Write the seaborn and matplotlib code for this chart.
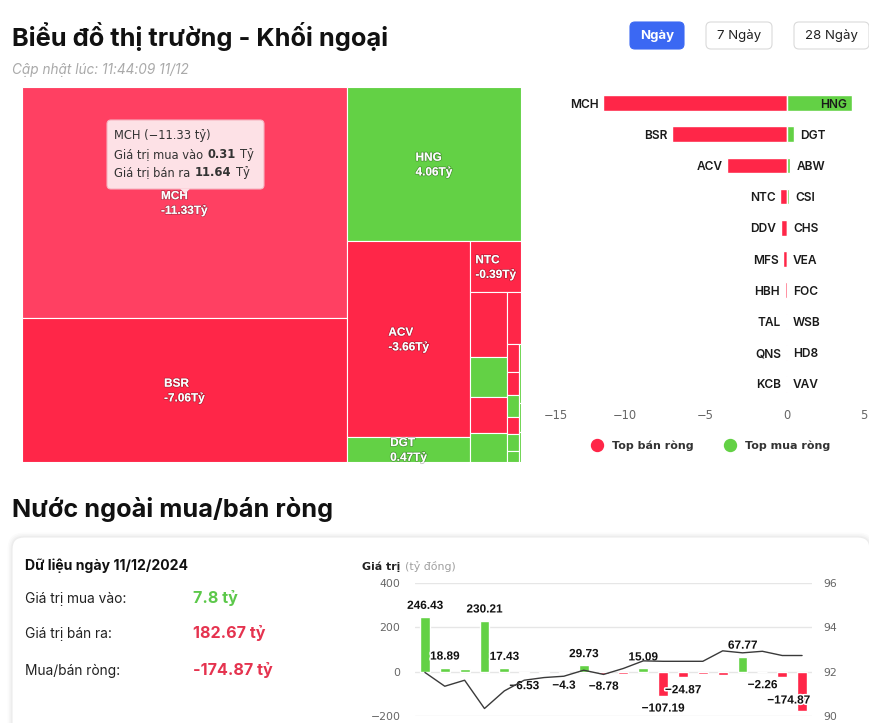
import numpy as np
import pandas as pd
import matplotlib
matplotlib.use("Agg")
import matplotlib.pyplot as plt
import seaborn as sns
import matplotlib.patheffects as pe
from matplotlib.patches import FancyBboxPatch, Rectangle, Polygon
from matplotlib.lines import Line2D
from matplotlib.transforms import IdentityTransform

# ------------------------------------------------------------------ data
page_title = "Biểu đồ thị trường - Khối ngoại"
updated_at = "Cập nhật lúc: 11:44:09 11/12"
period_buttons = ["Ngày", "7 Ngày", "28 Ngày"]
active_button = "Ngày"

sell_names = ["MCH", "BSR", "ACV", "NTC", "DDV", "MFS", "HBH", "TAL", "QNS", "KCB"]
sell_values = [-11.33, -7.06, -3.66, -0.39, -0.36, -0.20, -0.11, -0.05, -0.04, -0.03]
buy_names = ["HNG", "DGT", "ABW", "CSI", "CHS", "VEA", "FOC", "WSB", "HD8", "VAV"]
buy_values = [4.06, 0.47, 0.22, 0.16, 0.04, 0.03, 0.02, 0.02, 0.01, 0.01]
legend_labels = ["Top bán ròng", "Top mua ròng"]

tooltip_code = "MCH"
tooltip_buy = 0.31
tooltip_sell = 11.64

section_title = "Nước ngoài mua/bán ròng"
data_date = "11/12/2024"
total_buy = 7.8
total_sell = 182.67
total_net = -174.87

days = ["14/11", "15/11", "18/11", "19/11", "20/11", "21/11", "22/11", "25/11", "26/11", "27/11",
        "28/11", "29/11", "02/12", "03/12", "04/12", "05/12", "06/12", "09/12", "10/12", "11/12"]
net_flow = [246.43, 18.89, 11.2, 230.21, 17.43, -6.53, -5.12, -4.3, 29.73, -8.78,
            -9.4, 15.09, -107.19, -24.87, -10.9, -14.62, 67.77, -2.26, -21.3, -174.87]
upcom_index = [91.97, 91.35, 91.62, 90.35, 91.14, 91.62, 91.74, 91.80, 92.07, 91.88,
               92.15, 92.49, 92.47, 92.47, 92.47, 92.94, 92.85, 92.92, 92.73, 92.73]
left_ticks = [-200, 0, 200, 400]
right_ticks = [90, 92, 94, 96]
bar_ticks = [-15, -10, -5, 0, 5]

# ------------------------------------------------------------------ style
RED = "#ff2648"
GREEN = "#63d145"
RED_TXT = "#e5334f"
GREEN_TXT = "#5cc84a"
BLUE = "#3b68f3"
INTER = ["Inter", "DejaVu Sans"]
DEJA = ["DejaVu Sans"]
ARIAL = ["Liberation Sans", "DejaVu Sans"]

sns.set_theme(style="white")
plt.rcParams["font.family"] = ["DejaVu Sans"]
plt.rcParams["axes.unicode_minus"] = True

FIG_W, FIG_H = 870, 723
fig = plt.figure(figsize=(FIG_W / 100, FIG_H / 100), dpi=100)
fig.patch.set_facecolor("white")


def axrect(l, t, w, h):
    return [l / FIG_W, 1 - (t + h) / FIG_H, w / FIG_W, h / FIG_H]


def fx(x):
    return x / FIG_W


def fy(y):
    return 1 - y / FIG_H


def pxbox(l, t, w, h, **kw):
    p = FancyBboxPatch((l, FIG_H - t - h), w, h, transform=IdentityTransform(), **kw)
    fig.add_artist(p)
    return p


def brighten(hexcol, amt=0.1):
    c = np.array(matplotlib.colors.to_rgb(hexcol)) + amt
    return tuple(np.clip(c, 0, 1))


# ------------------------------------------------------------------ header
fig.text(fx(12), fy(46), page_title, fontsize=18.3, weight="bold", family=INTER,
         color="#111111", va="baseline")
fig.text(fx(12), fy(74), updated_at, fontsize=9.8, style="italic", family=INTER,
         color="#a9a9a9", va="baseline")

btn_x = [630, 706, 794]
btn_w = [54, 66, 75]
for lab, bx, bw in zip(period_buttons, btn_x, btn_w):
    active = lab == active_button
    pxbox(bx, 22, bw, 27, boxstyle="round,pad=0,rounding_size=5",
          facecolor=BLUE if active else "white",
          edgecolor=BLUE if active else "#dadada", linewidth=0.8)
    fig.text(fx(bx + bw / 2), fy(35.5), lab, ha="center", va="center", fontsize=9.5,
             family=INTER, color="white" if active else "#222222",
             weight="bold" if active else "normal")


# ------------------------------------------------------------------ treemap
def highcharts_squarified(values, width, height):
    vals = np.asarray(values, float)
    areas = vals / vals.sum() * width * height
    st = dict(w=width, h=height, d=0, total=0.0, nW=0.0, lW=0.0, nH=0.0, lH=0.0,
              el=[], lpt=np.nan, lR=np.nan, nR=np.nan)
    plot = [0.0, 0.0]
    rects = []

    def ratio(a, b):
        with np.errstate(all="ignore"):
            a = np.float64(a)
            b = np.float64(b)
            return np.maximum(a / b, b / a)

    def add(el):
        st["lpt"] = st["el"][-1] if st["el"] else np.nan
        st["total"] += el
        with np.errstate(all="ignore"):
            if st["d"] == 0:
                st["lW"] = st["nW"]
                lH = np.float64(st["lpt"]) / np.float64(st["lW"])
                st["lR"] = ratio(st["lW"], lH)
                st["nW"] = st["total"] / st["h"]
                nH = np.float64(st["lpt"]) / np.float64(st["nW"])
                st["nR"] = ratio(st["nW"], nH)
            else:
                st["lH"] = st["nH"]
                lW = np.float64(st["lpt"]) / np.float64(st["lH"])
                st["lR"] = ratio(lW, st["lH"])
                st["nH"] = st["total"] / st["w"]
                nW = np.float64(st["lpt"]) / np.float64(st["nH"])
                st["nR"] = ratio(nW, st["nH"])
        st["el"].append(el)

    def calc(last):
        keep = None
        if last:
            gW, gH = st["nW"], st["nH"]
        else:
            gW, gH = st["lW"], st["lH"]
            keep = st["el"][-1]
        end = len(st["el"]) - 1
        for i, p in enumerate(st["el"]):
            if last or i < end:
                if st["d"] == 0:
                    pw = gW
                    ph = p / pw
                    rects.append((plot[0], plot[1], pw, ph))
                    plot[1] += ph
                else:
                    ph = gH
                    pw = p / ph
                    rects.append((plot[0], plot[1], pw, ph))
                    plot[0] += pw
        st["nW"] = 0.0
        st["lW"] = 0.0
        st["el"] = []
        st["total"] = 0.0
        if st["d"] == 0:
            st["w"] -= gW
        else:
            st["h"] -= gH
        plot[1] = height - st["h"]
        plot[0] = width - st["w"]
        st["d"] = 1 - st["d"]
        if not last:
            add(keep)

    n = len(areas)
    for i, a in enumerate(areas):
        add(a)
        if st["nR"] > st["lR"]:
            calc(False)
        if i == n - 1:
            calc(True)
    return rects


TM_W, TM_H = 499, 375
ax_tm = fig.add_axes(axrect(22, 87, TM_W, TM_H))
tm_df = pd.DataFrame({"code": sell_names + buy_names, "net": sell_values + buy_values})
tm_df["size"] = tm_df["net"].abs()
tm_df = tm_df.sort_values("size", ascending=False, kind="stable").reset_index(drop=True)
rects = highcharts_squarified(tm_df["size"].values, TM_W, TM_H)
tm_texts = []
for (code, net), (x, y, w, h) in zip(tm_df[["code", "net"]].values, rects):
    col = GREEN if net > 0 else RED
    if code == tooltip_code:
        col = brighten(RED, 0.1)
    r = Rectangle((x, y), w, h, facecolor=col, edgecolor="white", linewidth=0.8)
    ax_tm.add_patch(r)
    t = ax_tm.text(x + w / 2, y + h / 2 + 1, f"{code}\n{net:.2f}Tỷ", ha="center", va="center",
                   multialignment="left", fontsize=8.5, weight="bold", family=ARIAL,
                   color="white", linespacing=1.3,
                   path_effects=[pe.withStroke(linewidth=1.2, foreground=(0, 0, 0, 0.25))])
    t.set_clip_path(r)
    tm_texts.append((t, w, h))
ax_tm.set_xlim(0, TM_W)
ax_tm.set_ylim(TM_H, 0)
ax_tm.axis("off")

# tooltip (hover state on MCH)
tip_l, tip_t, tip_w, tip_h = 85, 33, 157, 69
ax_tm.add_patch(FancyBboxPatch((tip_l, tip_t), tip_w, tip_h,
                               boxstyle="round,pad=0,rounding_size=4",
                               facecolor="#fde1e6", edgecolor="#f6b3c0", linewidth=0.8,
                               zorder=5))
ax_tm.add_patch(Polygon([[tip_l + 73, tip_t + tip_h - 0.5], [tip_l + 83, tip_t + tip_h - 0.5],
                         [tip_l + 78, tip_t + tip_h + 5]], closed=True,
                        facecolor="#fde1e6", edgecolor="none", zorder=6))
tip_net = -(tooltip_sell - tooltip_buy)
tip_lines = [
    [(f"{tooltip_code} ({tip_net:.2f} tỷ)".replace("-", "−"), False)],
    [("Giá trị mua vào", False), (f"{tooltip_buy:.2f}", True), ("Tỷ", False)],
    [("Giá trị bán ra", False), (f"{tooltip_sell:.2f}", True), ("Tỷ", False)],
]
tip_baselines = [139, 158, 176]

# ------------------------------------------------------------------ butterfly bar chart
ranks = [str(i + 1) for i in range(len(sell_names))]
ax_b = fig.add_axes(axrect(543.7, 87.4, 324, 312))
sns.barplot(x=sell_values, y=ranks, order=ranks, orient="h", color=RED, saturation=1,
            width=0.5, edgecolor="white", linewidth=1, errorbar=None, ax=ax_b)
sns.barplot(x=buy_values, y=ranks, order=ranks, orient="h", color=GREEN, saturation=1,
            width=0.5, edgecolor="white", linewidth=1, errorbar=None, ax=ax_b)
ax_b.set_xlim(bar_ticks[0], bar_ticks[-1])
ax_b.set_ylim(len(ranks) - 0.5, -0.5)
ax_b.set_xticks(bar_ticks)
ax_b.set_xticklabels([f"{v}".replace("-", "−") for v in bar_ticks])
ax_b.get_xticklabels()[0].set_ha("left")
ax_b.get_xticklabels()[-1].set_ha("right")
ax_b.set_yticks([])
ax_b.set_xlabel("")
ax_b.set_ylabel("")
for s in ax_b.spines.values():
    s.set_visible(False)
ax_b.tick_params(axis="x", length=0, pad=7, labelsize=8.3, labelcolor="#666666")
name_kw = dict(fontsize=8.6, family=INTER, weight="semibold", color="#1a1a1a",
               va="center_baseline", textcoords="offset points", annotation_clip=False)
for i, (nm, v) in enumerate(zip(sell_names, sell_values)):
    ax_b.annotate(nm, xy=(v, i), xytext=(-3.5, 0), ha="right", **name_kw)
buy_texts = []
for i, (nm, v) in enumerate(zip(buy_names, buy_values)):
    bt = ax_b.annotate(nm, xy=(v, i), xytext=(4.3, 0), ha="left", **name_kw)
    buy_texts.append(bt)

handles = [Line2D([], [], marker="o", ls="", color=RED, markersize=8.6),
           Line2D([], [], marker="o", ls="", color=GREEN, markersize=8.6)]
fig.legend(handles, legend_labels, loc="center", bbox_to_anchor=(fx(708), fy(446)),
           ncol=2, frameon=False, handletextpad=0.35, columnspacing=2.2,
           prop=dict(family=DEJA, weight="bold", size=8), labelcolor="#333333")

# ------------------------------------------------------------------ lower section
fig.text(fx(12), fy(517.5), section_title, fontsize=18.2, weight="bold", family=INTER,
         color="#111111", va="baseline")
for k, a in enumerate([0.025, 0.02, 0.015]):
    g = 1.5 + k * 1.5
    pxbox(12 - g, 537 - g, 858 + 2 * g, 240, boxstyle=f"round,pad=0,rounding_size={12 + g}",
          facecolor=(0, 0, 0, a), edgecolor="none", zorder=-3)
pxbox(12, 537, 858, 240, boxstyle="round,pad=0,rounding_size=12", facecolor="white",
      edgecolor="#ececec", linewidth=0.8, zorder=-2)

fig.text(fx(25), fy(570), f"Dữ liệu ngày {data_date}", fontsize=10.1, weight="bold",
         family=INTER, color="#111111", va="baseline")
summary_rows = [("Giá trị mua vào:", f"{total_buy:g} tỷ", GREEN_TXT, 602.5),
                ("Giá trị bán ra:", f"{total_sell:.2f} tỷ", RED_TXT, 638),
                ("Mua/bán ròng:", f"{total_net:.2f} tỷ", RED_TXT, 674.5)]
for lab, val, colr, yb in summary_rows:
    fig.text(fx(25), fy(yb), lab, fontsize=9.9, family=INTER, color="#222222", va="baseline")
    fig.text(fx(193), fy(yb), val, fontsize=11.6, weight="bold", family=INTER, color=colr,
             va="baseline")

gt = fig.text(fx(362), fy(570), "Giá trị", fontsize=7.9, weight="bold", family=DEJA,
              color="#222222", va="baseline")

ax_c = fig.add_axes(axrect(415, 582.7, 397, 133.6))
signs = ["mua" if v >= 0 else "bán" for v in net_flow]
sns.barplot(x=days, y=net_flow, order=days, hue=signs, hue_order=["mua", "bán"],
            palette={"mua": GREEN, "bán": RED}, dodge=False, saturation=1, width=0.5,
            errorbar=None, legend=False, ax=ax_c)
ax_c.set_ylim(left_ticks[0], left_ticks[-1])
ax_c.set_xlim(-0.5, len(days) - 0.5)
ax_c.set_yticks(left_ticks)
ax_c.set_yticklabels([f"{v}".replace("-", "−") for v in left_ticks])
ax_c.set_xticks([])
ax_c.set_xlabel("")
ax_c.set_ylabel("")
ax_c.set_axisbelow(True)
ax_c.yaxis.grid(True, color="#e6e6e6", linewidth=1)
ax_c.tick_params(axis="y", length=0, pad=10.5, labelsize=7.8, labelcolor="#666666")
for s in ax_c.spines.values():
    s.set_visible(False)

ax2 = ax_c.twinx()
sns.lineplot(x=np.arange(len(days)), y=upcom_index, ax=ax2, color="#3a3a3a", linewidth=1)
ax2.set_ylim(right_ticks[0], right_ticks[-1])
ax2.set_yticks(right_ticks)
ax2.set_ylabel("")
ax2.tick_params(axis="y", length=0, pad=8, labelsize=7.8, labelcolor="#666666")
for s in ax2.spines.values():
    s.set_visible(False)
ax_c.set_xlim(-0.5, len(days) - 0.5)

val_texts = []
for i, v in enumerate(net_flow):
    off = 3.6 if v >= 0 else -5.0
    t = ax_c.annotate(f"{v:g}".replace("-", "−"), xy=(i, v), xytext=(0, off),
                      textcoords="offset points", ha="center",
                      va="bottom" if v >= 0 else "top", fontsize=8.5, weight="bold",
                      family=ARIAL, color="#111111", annotation_clip=False, zorder=5,
                      path_effects=[pe.withStroke(linewidth=2.2, foreground="white")])
    val_texts.append(t)

# ------------------------------------------------------------------ post-layout adjustments
fig.canvas.draw()
rend = fig.canvas.get_renderer()
PT = 72 / 100.0

for t, w, h in tm_texts:
    bb = t.get_window_extent(rend)
    if bb.width > w - 4 or h < 20:
        t.set_visible(False)

axb_bb = ax_b.get_window_extent(rend)
for bt in buy_texts:
    bb = bt.get_window_extent(rend)
    if bb.x1 > axb_bb.x1:
        bt.set_ha("right")
        bt.xyann = (-3.6, 0)

axc_bb = ax_c.get_window_extent(rend)
for t, v in zip(val_texts, net_flow):
    bb = t.get_window_extent(rend)
    dx, dy = t.xyann
    if bb.y0 < axc_bb.y0:
        t.set_va("bottom")
        dy = 3.0
    if bb.x1 > axc_bb.x1 - 2:
        dx -= (bb.x1 - axc_bb.x1 + 2) * PT
    t.xyann = (dx, dy)
fig.canvas.draw()
placed = []
for t in val_texts:
    bb = t.get_window_extent(rend)
    box = (bb.x0 - 3, bb.y0 - 1, bb.x1 + 3, bb.y1 + 1)
    hit = any(not (box[2] <= p[0] or box[0] >= p[2] or box[3] <= p[1] or box[1] >= p[3])
              for p in placed)
    if hit:
        t.set_visible(False)
    else:
        placed.append(box)

bb = gt.get_window_extent(rend)
fig.text((bb.x1 + 5) / FIG_W, fy(570), "(tỷ đồng)", fontsize=7.9, family=DEJA,
         color="#a0a0a0", va="baseline")

for segs, yb in zip(tip_lines, tip_baselines):
    xpix = 114
    for txt, bold in segs:
        tt = fig.text(fx(xpix), fy(yb), txt, fontsize=8.3, family=DEJA, color="#333333",
                      weight="bold" if bold else "normal", va="baseline", zorder=10)
        fig.canvas.draw()
        xpix = tt.get_window_extent(rend).x1 + 4.5

fig.savefig("out.png", dpi=100, facecolor="white")
